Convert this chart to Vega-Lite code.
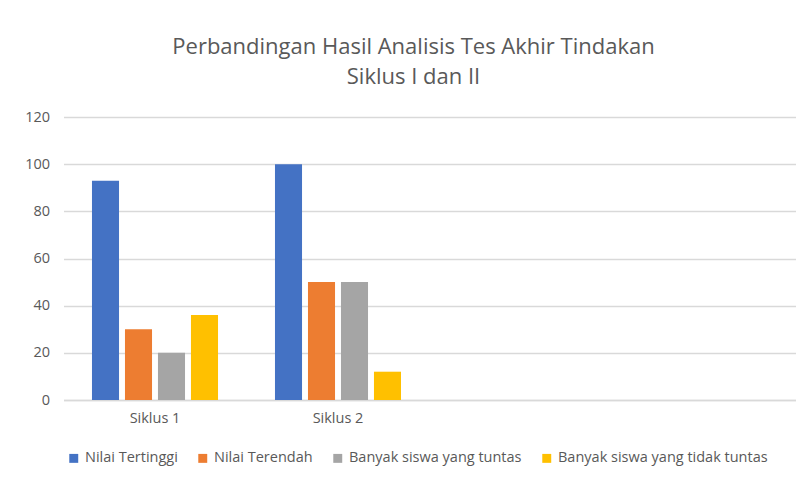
{
  "$schema": "https://vega.github.io/schema/vega-lite/v6.json",
  "width": 732,
  "height": 283,
  "autosize": {"type": "none"},
  "padding": {"left": 63.5, "top": 117, "right": 5.5, "bottom": 77},
  "background": "white",
  "title": {
    "text": ["Perbandingan Hasil Analisis Tes Akhir Tindakan", "Siklus I dan II"],
    "font": "Open Sans",
    "fontSize": 22,
    "fontWeight": "normal",
    "color": "#595959",
    "anchor": "middle",
    "dx": -16,
    "offset": 20,
    "lineHeight": 30
  },
  "data": {
    "values": [
      {"siklus": "Siklus 1", "kategori": "Nilai Tertinggi", "nilai": 93},
      {"siklus": "Siklus 1", "kategori": "Nilai Terendah", "nilai": 30},
      {"siklus": "Siklus 1", "kategori": "Banyak siswa yang tuntas", "nilai": 20},
      {"siklus": "Siklus 1", "kategori": "Banyak siswa yang tidak tuntas", "nilai": 36},
      {"siklus": "Siklus 2", "kategori": "Nilai Tertinggi", "nilai": 100},
      {"siklus": "Siklus 2", "kategori": "Nilai Terendah", "nilai": 50},
      {"siklus": "Siklus 2", "kategori": "Banyak siswa yang tuntas", "nilai": 50},
      {"siklus": "Siklus 2", "kategori": "Banyak siswa yang tidak tuntas", "nilai": 12}
    ]
  },
  "mark": {"type": "bar"},
  "encoding": {
    "x": {
      "field": "siklus",
      "type": "nominal",
      "scale": {"domain": ["Siklus 1", "Siklus 2", " ", "  "], "paddingInner": 0, "paddingOuter": 0},
      "axis": {
        "title": null,
        "labelAngle": 0,
        "ticks": false,
        "domainColor": "#D9D9D9",
        "domainWidth": 1.5,
        "labelFont": "Open Sans",
        "labelFontSize": 14.5,
        "labelColor": "#595959",
        "labelPadding": 11
      }
    },
    "xOffset": {
      "field": "kategori",
      "type": "nominal",
      "scale": {"domain": ["Nilai Tertinggi", "Nilai Terendah", "Banyak siswa yang tuntas", "Banyak siswa yang tidak tuntas"], "paddingInner": 0.18, "paddingOuter": 0.863}
    },
    "y": {
      "field": "nilai",
      "type": "quantitative",
      "scale": {"domain": [0, 120]},
      "axis": {
        "title": null,
        "values": [0, 20, 40, 60, 80, 100, 120],
        "domain": false,
        "ticks": false,
        "gridColor": "#D9D9D9",
        "gridWidth": 1.5,
        "labelFont": "Open Sans",
        "labelFontSize": 14.5,
        "labelColor": "#595959",
        "labelPadding": 14
      }
    },
    "color": {
      "field": "kategori",
      "type": "nominal",
      "scale": {
        "domain": ["Nilai Tertinggi", "Nilai Terendah", "Banyak siswa yang tuntas", "Banyak siswa yang tidak tuntas"],
        "range": ["#4472C4", "#ED7D31", "#A5A5A5", "#FFC000"]
      },
      "legend": {
        "title": null,
        "orient": "none",
        "direction": "horizontal",
        "legendX": 3,
        "legendY": 334,
        "symbolType": "square",
        "symbolSize": 80,
        "symbolStrokeWidth": 0,
        "labelFont": "Open Sans",
        "labelFontSize": 14.5,
        "labelColor": "#595959",
        "columnPadding": 17,
        "labelLimit": 300
      }
    }
  },
  "config": {
    "view": {"stroke": null}
  }
}
